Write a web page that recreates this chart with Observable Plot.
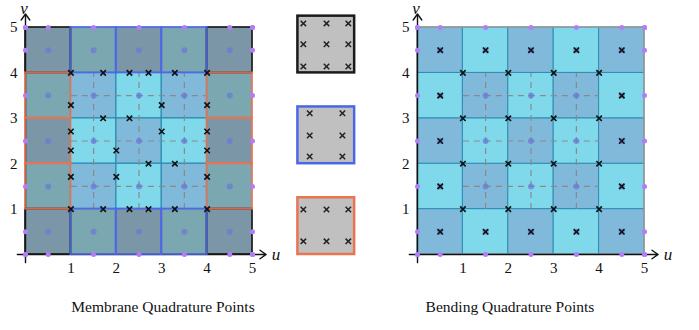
<!DOCTYPE html>
<html><head><meta charset="utf-8">
<script src="https://cdn.jsdelivr.net/npm/d3@7"></script>
<script src="https://cdn.jsdelivr.net/npm/@observablehq/plot@0.6"></script>
<style>
body{margin:0;background:#fff;}
#wrap{position:relative;width:699px;height:330px;overflow:hidden;font-family:"Liberation Serif",serif;}
#left{position:absolute;left:0;top:0;}
#right{position:absolute;left:392px;top:0;}
.cap{position:absolute;top:298px;font-size:15.5px;color:#111;white-space:nowrap;transform:translateX(-50%);}
</style></head><body>
<div id="wrap"><div id="left"></div><div id="right"></div>
<div class="cap" style="left:163px">Membrane Quadrature Points</div>
<div class="cap" style="left:510px">Bending Quadrature Points</div></div>
<script>
// ---- data ----
const cols = [0, 1, 2, 3, 4];
const rows = [0, 1, 2, 3, 4];
const tickLabels = [1, 2, 3, 4, 5];
const boundaryDotPos = [0, 0.5, 1.5, 2.5, 3.5, 4.5, 5];
const dashPos = [1.5, 2.5, 3.5];
const dashFrom = 1, dashTo = 4;
const axisMin = -0.18, axisMax = 5.3;

// membrane quadrature points (x markers)
const memU = [1,1.71,2.29,2.71,3.29,4, 1,3,4, 1.71,2.29, 1,3,4, 1,2,4, 2.71,3.29, 1,2,4, 1,1.71,2.29,2.71,3.29,4];
const memV = [4,4,4,4,4,4, 3.29,3.29,3.29, 3,3, 2.71,2.71,2.71, 2.29,2.29,2.29, 2,2, 1.71,1.71,1.71, 1,1,1,1,1,1];

// bending quadrature: inner vertices
const innerVerts = [1, 2, 3, 4];

// legend squares
const legendKinds = ["corner", "tb", "lr"];
const legendY0 = [4, 2, 0];
const legendX0 = 6, legendSize = 1.25;
const legendPtsU = {corner: [0.12, 0.63, 1.11], tb: [0.26, 0.98], lr: [0.12, 0.63, 1.11]};
const legendPtsV = {corner: [0.14, 0.63, 1.09], tb: [0.16, 0.62, 1.11], lr: [0.29, 0.99]};

// colours
const checkerColors = ["#80b9d9", "#7fd9eb"];
const kindStroke = {corner: "#1a1a1a", tb: "#4c66e6", lr: "#ea7352"};
const cellBorder = "#2b8db3";

// ---- tables ----
const cells = [];
for (const c of cols) for (const r of rows) {
  const bc = c === 0 || c === 4, br = r === 0 || r === 4;
  const kind = bc && br ? "corner" : br ? "tb" : bc ? "lr" : "inner";
  cells.push({x1: c, x2: c + 1, y1: r, y2: r + 1, cx: c + 0.5, cy: r + 0.5,
    fill: checkerColors[(c + r) % 2], kind});
}
const memPts = memU.map((u, i) => ({u, v: memV[i]}));
const bendPts = cells.filter(d => d.kind !== "inner").map(d => ({u: d.cx, v: d.cy}));
for (const a of innerVerts) for (const b of innerVerts) bendPts.push({u: a, v: b});
const bDots = [];
for (const p of boundaryDotPos) { bDots.push({u: p, v: 0}, {u: p, v: 5}, {u: 0, v: p}, {u: 5, v: p}); }
const dashes = [];
for (const p of dashPos) { dashes.push({x1: p, x2: p, y1: dashFrom, y2: dashTo}, {x1: dashFrom, x2: dashTo, y1: p, y2: p}); }
const legendSq = legendKinds.map((k, i) => ({kind: k, x1: legendX0, x2: legendX0 + legendSize, y1: legendY0[i], y2: legendY0[i] + legendSize}));
const legendPts = [];
legendKinds.forEach((k, i) => { for (const a of legendPtsU[k]) for (const b of legendPtsV[k]) legendPts.push({u: legendX0 + a, v: legendY0[i] + b}); });

function axes() {
  return [
    Plot.arrow([0], {x1: axisMin, y1: 0, x2: axisMax, y2: 0, stroke: "#111", strokeWidth: 1.4, headLength: 8, headAngle: 70}),
    Plot.arrow([0], {x1: 0, y1: axisMin, x2: 0, y2: axisMax, stroke: "#111", strokeWidth: 1.4, headLength: 8, headAngle: 70})
  ];
}
function labels() {
  return [
    Plot.text(tickLabels, {x: d => d, y: -0.3, text: d => String(d), fontSize: 15, fill: "#111"}),
    Plot.text(tickLabels, {x: -0.26, y: d => d, text: d => String(d), fontSize: 15, fill: "#111"}),
    Plot.text(["u"], {x: 5.52, y: 0, text: d => d, fontSize: 17, fontStyle: "italic", fill: "#111"}),
    Plot.text(["v"], {x: -0.03, y: 5.42, text: d => d, fontSize: 17, fontStyle: "italic", fill: "#111"})
  ];
}
function dashMarks() {
  return Plot.link(dashes, {x1: "x1", x2: "x2", y1: "y1", y2: "y2", stroke: "#8a8a8a", strokeWidth: 1.2, strokeDasharray: "6,5"});
}
const common = {height: 280, marginTop: 27, marginBottom: 26, marginLeft: 25,
  x: {domain: [0, 5], axis: null}, y: {domain: [0, 5], axis: null},
  style: {fontFamily: "Liberation Serif, serif", overflow: "visible", background: "transparent"}};

const left = Plot.plot({...common, width: 380, marginRight: 128,
  marks: [
    Plot.rect(cells, {x1: "x1", x2: "x2", y1: "y1", y2: "y2", fill: "fill"}),
    Plot.rect(cells.filter(d => d.kind !== "inner"), {x1: "x1", x2: "x2", y1: "y1", y2: "y2", fill: "#757575", fillOpacity: 0.5}),
    Plot.rect(cells.filter(d => d.kind === "inner"), {x1: "x1", x2: "x2", y1: "y1", y2: "y2", fill: "none", stroke: cellBorder, strokeWidth: 1}),
    dashMarks(),
    ...axes(),
    ...["corner", "lr", "tb"].map(k => Plot.rect(cells.filter(d => d.kind === k), {x1: "x1", x2: "x2", y1: "y1", y2: "y2", fill: "none", stroke: kindStroke[k], strokeWidth: 2, strokeOpacity: 0.85})),
    Plot.dot(cells, {x: "cx", y: "cy", r: 3, fill: "#6b78d8", fillOpacity: 0.7}),
    Plot.dot(memPts, {x: "u", y: "v", symbol: "times", r: 2.6, stroke: "#111", strokeWidth: 1.6}),
    Plot.dot(bDots, {x: "u", y: "v", r: 2.5, fill: "#b57cf7"}),
    ...labels(),
    Plot.rect(legendSq, {x1: "x1", x2: "x2", y1: "y1", y2: "y2", fill: "#c0c0c0", stroke: d => kindStroke[d.kind], strokeWidth: 2.5}),
    Plot.dot(legendPts, {x: "u", y: "v", symbol: "times", r: 2.6, stroke: "#222", strokeWidth: 1.5})
  ]});
document.getElementById("left").appendChild(left);

const right = Plot.plot({...common, width: 307, marginRight: 55,
  marks: [
    Plot.rect(cells, {x1: "x1", x2: "x2", y1: "y1", y2: "y2", fill: "fill", stroke: cellBorder, strokeWidth: 1}),
    Plot.rect([0], {x1: 0, x2: 5, y1: 0, y2: 5, fill: "none", stroke: "#9a9a9a", strokeWidth: 1.5}),
    dashMarks(),
    ...axes(),
    Plot.dot(cells, {x: "cx", y: "cy", r: 3, fill: "#6b78d8", fillOpacity: 0.7}),
    Plot.dot(bendPts, {x: "u", y: "v", symbol: "times", r: 2.6, stroke: "#111", strokeWidth: 1.6}),
    Plot.dot(bDots, {x: "u", y: "v", r: 2.5, fill: "#b57cf7"}),
    ...labels()
  ]});
document.getElementById("right").appendChild(right);
</script>
</body></html>
